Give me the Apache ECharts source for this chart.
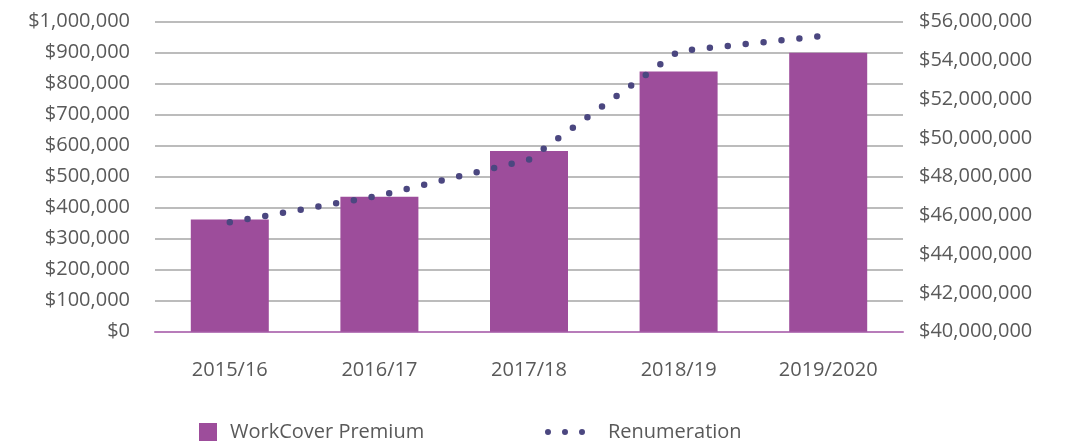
<!DOCTYPE html>
<html>
<head>
<meta charset="utf-8">
<title>WorkCover Premium and Renumeration</title>
<script src="https://cdn.jsdelivr.net/npm/echarts@6/dist/echarts.min.js"></script>
<style>
  html, body { margin: 0; padding: 0; background: #ffffff; }
  #chart { width: 1068px; height: 444px; }
</style>
</head>
<body>
<div id="chart"></div>
<script>
// Financial years on the category axis
const years = ['2015/16', '2016/17', '2017/18', '2018/19', '2019/2020'];
// WorkCover premium paid each year (left axis, $)
const premium = [362000, 435000, 583000, 839000, 900000];
// Total renumeration each year (right axis, $)
const renumeration = [45650000, 47020000, 48890000, 54480000, 55290000];

// Axis ranges and steps
const premiumAxis = { min: 0, max: 1000000, interval: 100000 };
const renumAxis = { min: 40000000, max: 56000000, interval: 2000000 };

const FONT = '"Open Sans", "Noto Sans", sans-serif';
const TEXT = '#595959';
const BAR = '#9d4d9b';
const DOT = '#4b4780';

// Three round dots used as the legend key of the dotted series
const DOTS_ICON = 'path://M0,3a3,3 0 1,0 6,0a3,3 0 1,0 -6,0Z' +
  'M17,3a3,3 0 1,0 6,0a3,3 0 1,0 -6,0Z' +
  'M34,3a3,3 0 1,0 6,0a3,3 0 1,0 -6,0Z';

const dollars = v => '$' + Number(v).toLocaleString('en-US');

const chart = echarts.init(document.getElementById('chart'), null, { renderer: 'canvas' });

chart.setOption({
  animation: false,
  backgroundColor: '#ffffff',
  textStyle: { fontFamily: FONT },
  grid: { left: 155, right: 165, top: 21.7, bottom: 112.3, containLabel: false },
  legend: [
    {
      data: [{ name: 'WorkCover Premium', icon: 'rect' }],
      left: 194, top: 417,
      itemWidth: 18, itemHeight: 18,
      textStyle: { fontFamily: FONT, fontSize: 20, color: TEXT, padding: [0, 0, 0, 8] },
      selectedMode: false
    },
    {
      data: [{ name: 'Renumeration', icon: DOTS_ICON }],
      left: 540, top: 417,
      itemWidth: 40, itemHeight: 6,
      itemStyle: { color: DOT, borderWidth: 0 },
      lineStyle: { width: 0 },
      textStyle: { fontFamily: FONT, fontSize: 20, color: TEXT, padding: [0, 0, 0, 18] },
      selectedMode: false
    }
  ],
  xAxis: {
    type: 'category',
    data: years,
    axisLine: { show: true, lineStyle: { color: '#b87cba', width: 2 } },
    axisTick: { show: false },
    axisLabel: { fontFamily: FONT, fontSize: 20, color: TEXT, margin: 29 }
  },
  yAxis: [
    {
      type: 'value',
      min: premiumAxis.min, max: premiumAxis.max, interval: premiumAxis.interval,
      axisLine: { show: false },
      axisTick: { show: false },
      splitLine: { show: true, lineStyle: { color: '#a6a6a6', width: 1.5 } },
      axisLabel: { fontFamily: FONT, fontSize: 20, color: TEXT, margin: 25, formatter: dollars }
    },
    {
      type: 'value',
      position: 'right',
      min: renumAxis.min, max: renumAxis.max, interval: renumAxis.interval,
      axisLine: { show: false },
      axisTick: { show: false },
      splitLine: { show: false },
      axisLabel: { fontFamily: FONT, fontSize: 20, color: TEXT, margin: 16, formatter: dollars }
    }
  ],
  series: [
    {
      name: 'WorkCover Premium',
      type: 'bar',
      yAxisIndex: 0,
      data: premium,
      barWidth: 78,
      itemStyle: { color: BAR },
      z: 2
    },
    {
      name: 'Renumeration',
      type: 'line',
      yAxisIndex: 1,
      data: renumeration,
      symbol: 'none',
      smooth: false,
      lineStyle: { color: DOT, width: 6.5, type: [0, 18], cap: 'round' },
      itemStyle: { color: DOT },
      z: 3
    }
  ]
});
</script>
</body>
</html>
